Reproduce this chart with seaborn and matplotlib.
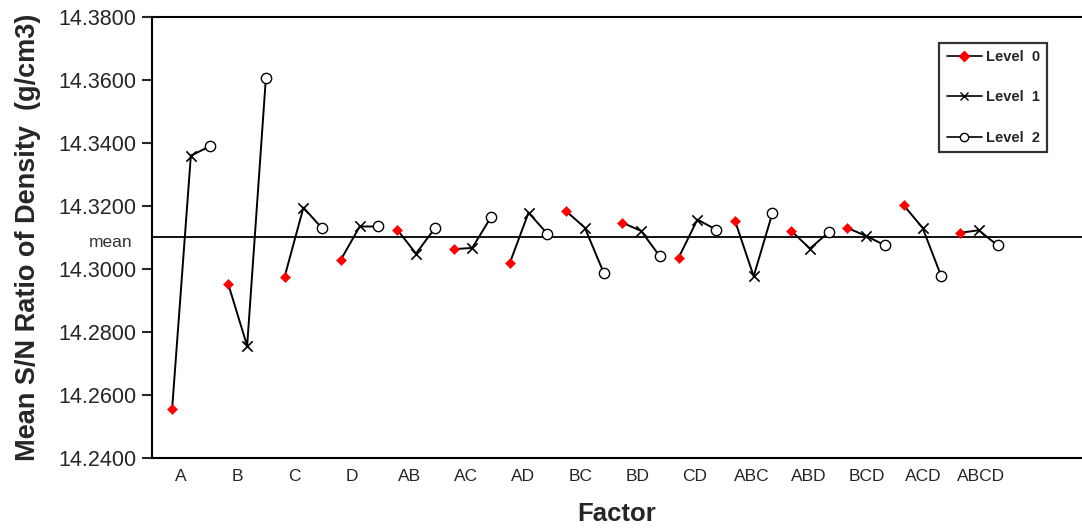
import numpy as np
import pandas as pd
import matplotlib
matplotlib.use("Agg")
import matplotlib.pyplot as plt
import matplotlib.transforms as mtransforms
from matplotlib.lines import Line2D
import seaborn as sns

# values
factors = ['A', 'B', 'C', 'D', 'AB', 'AC', 'AD', 'BC', 'BD', 'CD',
           'ABC', 'ABD', 'BCD', 'ACD', 'ABCD']
level0 = [14.2555, 14.2951, 14.2976, 14.3030, 14.3125, 14.3063, 14.3019, 14.3184,
          14.3147, 14.3036, 14.3154, 14.3121, 14.3130, 14.3202, 14.3115]
level1 = [14.3360, 14.2756, 14.3195, 14.3135, 14.3049, 14.3067, 14.3179, 14.3131,
          14.3121, 14.3157, 14.2977, 14.3065, 14.3105, 14.3131, 14.3123]
level2 = [14.3389, 14.3607, 14.3129, 14.3135, 14.3129, 14.3165, 14.3112, 14.2989,
          14.3040, 14.3125, 14.3178, 14.3117, 14.3075, 14.2977, 14.3075]
mean_value = 14.3101
y_ticks = [14.24, 14.26, 14.28, 14.30, 14.32, 14.34, 14.36, 14.38]

# long table: one row per point, position = group*3 + level
rows = []
for i, f in enumerate(factors):
    for lev, vals in enumerate([level0, level1, level2]):
        rows.append({'factor': f, 'level': lev, 'pos': i * 3 + lev, 'value': vals[i]})
df = pd.DataFrame(rows)

sns.set_style('white')
plt.rcParams['font.family'] = ['Liberation Sans', 'DejaVu Sans']

fig = plt.figure(figsize=(10.82, 5.29), dpi=100)
ax = fig.add_axes([0.1405, 0.134, 0.8595, 0.834])

#lines joining the three levels of each factor
sns.lineplot(data=df, x='pos', y='value', units='factor', estimator=None,
             color='black', linewidth=1.4, ax=ax, legend=False, sort=False)

ax.axhline(mean_value, color='black', linewidth=1.3, zorder=1)

#markers, one call per level
sns.scatterplot(data=df[df['level'] == 0], x='pos', y='value', marker='D', s=26,
                color='red', edgecolor='red', ax=ax, zorder=3, legend=False)
sns.scatterplot(data=df[df['level'] == 1], x='pos', y='value', marker='x', s=55,
                color='black', linewidth=1.2, ax=ax, zorder=3, legend=False)
sns.scatterplot(data=df[df['level'] == 2], x='pos', y='value', marker='o', s=55,
                facecolor='white', edgecolor='black', linewidth=1.0, ax=ax, zorder=3,
                legend=False)

ax.set_ylim(14.24, 14.38)
ax.set_xlim(-1.07, 48.5)
ax.set_yticks(y_ticks)
ax.set_yticklabels([f'{v:.4f}' for v in y_ticks], fontsize=15.5)
ax.set_xticks(np.linspace(0.45, 43.1, len(factors)))
ax.set_xticklabels(factors, fontsize=12.5)
ax.tick_params(axis='x', length=0, pad=8)
ax.tick_params(axis='y', length=7, width=1.5, direction='out', left=True, pad=4)

for side in ['left', 'bottom', 'top']:
    ax.spines[side].set_color('black')
    ax.spines[side].set_linewidth(1.5)
ax.spines['right'].set_visible(False)

ax.set_xlabel('Factor', fontsize=18.5, fontweight='bold', labelpad=13)
ax.set_ylabel('Mean S/N Ratio of Density  (g/cm3)', fontsize=19.5,
              fontweight='bold', labelpad=13)

trans = mtransforms.blended_transform_factory(ax.transAxes, ax.transData)
ax.annotate('mean', xy=(0, mean_value), xycoords=trans, xytext=(-14, -4),
            textcoords='offset points', ha='right', va='center', fontsize=12.5,
            color='#333333', annotation_clip=False)

handles = [
    Line2D([], [], color='black', linewidth=1.2, marker='D', markersize=5,
           markerfacecolor='red', markeredgecolor='red'),
    Line2D([], [], color='black', linewidth=1.2, marker='x', markersize=6,
           markeredgecolor='black'),
    Line2D([], [], color='black', linewidth=1.2, marker='o', markersize=6,
           markerfacecolor='white', markeredgecolor='black'),
]
leg = fig.legend(handles, ['Level  0', 'Level  1', 'Level  2'],
                 loc='upper right', bbox_to_anchor=(0.968, 0.919),
                 prop={'weight': 'bold', 'size': 10.5}, frameon=True,
                 fancybox=False, edgecolor='black', labelspacing=1.8,
                 handlelength=2.4, handletextpad=0.3, borderpad=0.5,
                 borderaxespad=0)
leg.get_frame().set_linewidth(1.6)

fig.savefig('out.png', dpi=100, facecolor='white')
